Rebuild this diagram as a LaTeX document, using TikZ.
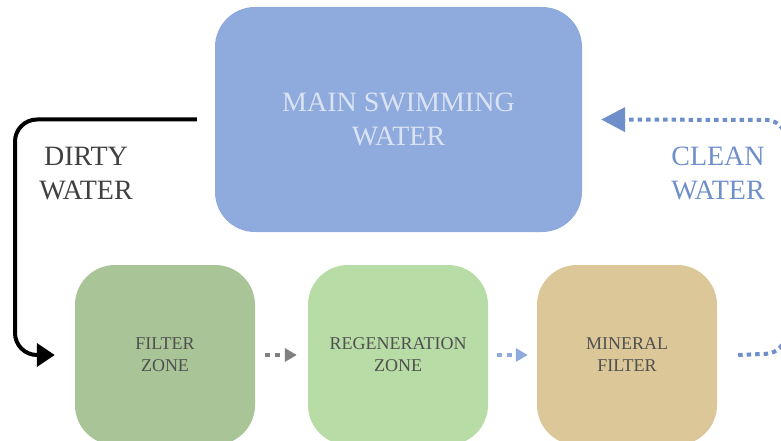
\documentclass[tikz,border=0pt]{standalone}
\usepackage{fontspec}
\setmainfont{Liberation Serif}
\usetikzlibrary{arrows.meta}
\definecolor{mainblue}{HTML}{8FAADC}
\definecolor{maintext}{HTML}{DAE3F3}
\definecolor{filtergreen}{HTML}{A9C497}
\definecolor{regengreen}{HTML}{B8DCA5}
\definecolor{mineraltan}{HTML}{DBC797}
\definecolor{labelgray}{HTML}{505050}
\definecolor{dirtygray}{HTML}{404040}
\definecolor{cleanblue}{HTML}{6F8FCA}
\definecolor{arrowgray}{HTML}{808080}
\tikzset{
  zonebox/.style={draw=none, rounded corners=40pt, minimum width=180pt, minimum height=180pt,
    inner sep=0pt, align=center, text=labelgray, font=\fontsize{18}{22}\selectfont},
  mainbox/.style={draw=none, fill=mainblue, rounded corners=40pt, minimum width=367pt, minimum height=225pt,
    inner sep=0pt, align=center, text=maintext, font=\fontsize{28}{34}\selectfont},
  biglabel/.style={inner sep=0pt, align=center, font=\fontsize{28}{34}\selectfont},
  dirtyarrow/.style={line width=4pt, black, rounded corners=22pt, -{Triangle[length=18pt,width=23pt]}},
  cleanarrow/.style={line width=4pt, cleanblue, dash pattern=on 4.5pt off 4pt, rounded corners=20pt,
    -{Triangle[length=24pt,width=24pt]}},
  smallarrow/.style={line width=4pt, dash pattern=on 5pt off 5pt, -{Triangle[length=12pt,width=13pt]}}
}
\begin{document}
\begin{tikzpicture}[x=1pt,y=-1pt]
\useasboundingbox (0,0) rectangle (781,441);
\clip (0,0) rectangle (781,441);
\node[mainbox] (main) at (398.5,119.5) {MAIN SWIMMING\\WATER};
\node[zonebox, fill=filtergreen] (filter) at (165,355) {FILTER\\ZONE};
\node[zonebox, fill=regengreen] (regen) at (398,355) {REGENERATION\\ZONE};
\node[zonebox, fill=mineraltan] (mineral) at (627,355) {MINERAL\\FILTER};
\node[biglabel, text=dirtygray] (dirty) at (86,173.5) {DIRTY\\WATER};
\node[biglabel, text=cleanblue] (clean) at (718,173.5) {CLEAN\\WATER};
\coordinate (dA) at (15,119.5);
\coordinate (dB) at (15,355);
\draw[dirtyarrow, shorten >=20pt] ([xshift=-18pt]main.west) -- (dA) -- (dB) -- (filter.west);
\coordinate (cA) at (786,353);
\coordinate (cB) at (786,120);
\draw[cleanarrow, shorten >=19pt] ([xshift=21pt]mineral.east) -- (cA) -- (cB) -- (main.east);
\draw[smallarrow, arrowgray, shorten <=10pt, shorten >=11pt] (filter.east) -- (regen.west);
\draw[smallarrow, mainblue, shorten <=9pt, shorten >=9pt] (regen.east) -- (mineral.west);
\end{tikzpicture}
\end{document}
